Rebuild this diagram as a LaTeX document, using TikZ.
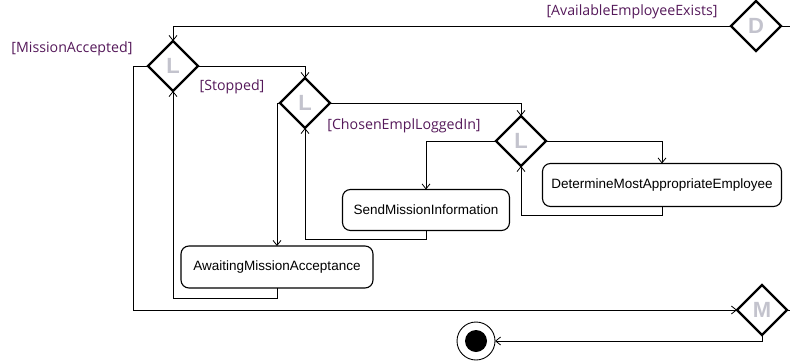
\documentclass[tikz,border=0pt]{standalone}
\usepackage{fontspec}
\setmainfont{Liberation Sans}
\newfontfamily\labelfont{Open Sans}
\usetikzlibrary{shapes.geometric,arrows.meta}
\definecolor{guardcol}{RGB}{85,25,90}
\definecolor{lettercol}{RGB}{195,195,205}
\tikzset{
  x=1pt, y=-1pt,
  decision/.style={diamond, draw, line width=2.4pt, minimum width=50pt, minimum height=50pt,
    inner sep=0pt, outer sep=0pt, aspect=1, text=lettercol, font=\bfseries\fontsize{22}{22}\selectfont},
  action/.style={draw, rounded corners=8pt, line width=1.1pt, inner sep=0pt, outer sep=0pt,
    font=\fontsize{13.5}{15}\selectfont},
  guard/.style={text=guardcol, font=\labelfont\fontsize{14.2}{16}\selectfont, inner sep=0pt},
  arr/.style={line width=0.9pt, -{Straight Barb[length=5pt,width=8pt,line width=0.8pt]}},
  conn/.style={line width=0.9pt},
}
\begin{document}
\begin{tikzpicture}
\useasboundingbox (0,0) rectangle (790,362);
% decisions
\node[decision] (D) at (756,26) {D};
\node[decision] (L1) at (173,66) {L};
\node[decision] (L2) at (305,103) {L};
\node[decision] (L3) at (521,141) {L};
\node[decision] (M) at (762,310) {M};
% actions
\node[action, minimum width=192pt, minimum height=42pt] (AMA) at (277,267) {AwaitingMissionAcceptance};
\node[action, minimum width=167pt, minimum height=41pt] (SMI) at (426,210) {SendMissionInformation};
\node[action, minimum width=239pt, minimum height=43pt] (DMAE) at (662,185) {DetermineMostAppropriateEmployee};
% final node
\node[circle, draw, line width=0.9pt, minimum size=38pt, inner sep=0pt, outer sep=0pt] (F) at (476,341) {};
\fill (F.center) circle (11pt);
% stubs from outside
\coordinate (Din) at (790,26);
\coordinate (Dtop) at (756,0);
\coordinate (Min) at (790,310);
\draw[conn] (D.east) -- (Din);
\draw[conn] (D.north) -- (Dtop);
\draw[conn] (M.east) -- (Min);
% connectors
\draw[arr] (D.west) -| (L1.north);
\draw[arr] (L1.east) -| (L2.north);
\draw[arr] (L2.east) -| (L3.north);
\draw[arr] (L3.west) -| (SMI.north);
\draw[arr] (L3.east) -| (DMAE.north);
\draw[arr] (L2.west) -| (AMA.north);
\draw[arr] (L1.west) -- ++(-15,0) |- (M.west);
\draw[arr] (AMA.south) -- ++(0,10) -| (L1.south);
\draw[arr] (SMI.south) -- ++(0,9) -| (L2.south);
\draw[arr] (DMAE.south) -- ++(0,9) -| (L3.south);
\draw[arr] (M.south) |- (F.east);
% guards
\node[guard] (g1) at (632,12) {[AvailableEmployeeExists]};
\node[guard] (g2) at (72,49) {[MissionAccepted]};
\node[guard] (g3) at (232,87) {[Stopped]};
\node[guard] (g4) at (404,126) {[ChosenEmplLoggedIn]};
\end{tikzpicture}
\end{document}
